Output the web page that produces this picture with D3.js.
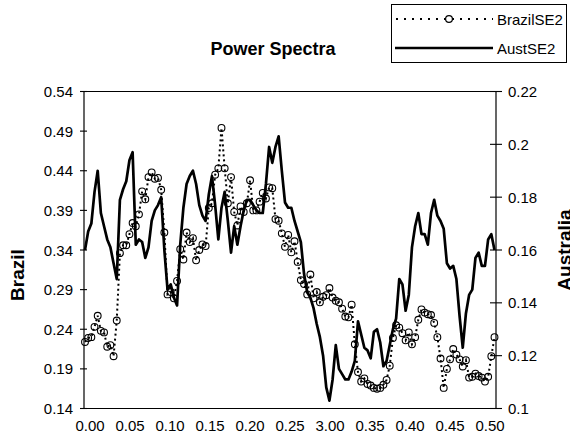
<!DOCTYPE html>
<html><head><meta charset="utf-8">
<script src="https://cdn.jsdelivr.net/npm/d3@7"></script>
<style>body{margin:0;background:#fff}text{font-family:"Liberation Sans",Arial,sans-serif;fill:#000}</style>
</head><body><svg id="c" width="570" height="437"></svg>
<script>
const brazilSE2 = [0.224,0.229,0.230,0.243,0.257,0.238,0.236,0.218,0.220,0.206,
0.251,0.336,0.346,0.346,0.360,0.374,0.370,0.385,0.414,0.404,
0.432,0.438,0.430,0.431,0.416,0.362,0.284,0.287,0.279,0.301,
0.341,0.328,0.362,0.350,0.355,0.327,0.340,0.347,0.345,0.393,
0.399,0.435,0.443,0.494,0.443,0.399,0.432,0.388,0.371,0.395,
0.388,0.399,0.428,0.390,0.390,0.401,0.412,0.405,0.419,0.418,
0.379,0.377,0.361,0.344,0.359,0.337,0.351,0.325,0.302,0.297,
0.284,0.309,0.279,0.287,0.274,0.281,0.283,0.292,0.280,0.276,
0.274,0.266,0.256,0.255,0.271,0.221,0.186,0.174,0.178,0.171,
0.169,0.166,0.165,0.166,0.170,0.176,0.194,0.229,0.245,0.242,
0.235,0.226,0.236,0.221,0.230,0.252,0.265,0.261,0.259,0.258,
0.248,0.230,0.203,0.166,0.190,0.202,0.215,0.208,0.202,0.193,
0.201,0.179,0.180,0.184,0.181,0.179,0.174,0.180,0.206,0.230];
const austSE2 = [0.160,0.167,0.170,0.182,0.190,0.174,0.169,0.164,0.161,0.155,
0.149,0.179,0.183,0.186,0.194,0.197,0.162,0.164,0.163,0.157,
0.161,0.171,0.175,0.177,0.180,0.160,0.145,0.147,0.142,0.139,
0.162,0.176,0.185,0.188,0.190,0.185,0.177,0.173,0.171,0.181,
0.188,0.177,0.164,0.176,0.182,0.171,0.159,0.169,0.162,0.169,
0.175,0.179,0.179,0.177,0.175,0.174,0.174,0.185,0.199,0.193,
0.199,0.203,0.190,0.178,0.176,0.176,0.171,0.167,0.163,0.151,
0.144,0.142,0.138,0.132,0.127,0.120,0.108,0.103,0.111,0.124,
0.115,0.113,0.111,0.111,0.114,0.118,0.133,0.128,0.123,0.122,
0.119,0.129,0.130,0.125,0.116,0.118,0.124,0.130,0.134,0.149,
0.147,0.137,0.143,0.161,0.169,0.174,0.166,0.166,0.162,0.174,
0.179,0.173,0.171,0.168,0.155,0.153,0.154,0.149,0.135,0.123,
0.136,0.143,0.145,0.157,0.159,0.154,0.154,0.164,0.166,0.160];
const xTickLabels = ["0.00","0.05","0.10","0.15","0.20","0.25","3.00","0.35","0.40","0.45","0.50"];
const brazilTicks = [0.14,0.19,0.24,0.29,0.34,0.39,0.44,0.49,0.54];
const australiaTicks = [0.1,0.12,0.14,0.16,0.18,0.2,0.22];
const seriesNames = ["BrazilSE2","AustSE2"];

const svg = d3.select("#c");
const P = {l:84, r:496, t:91.5, b:408.5};
const idx = d3.range(brazilSE2.length);
const x = d3.scaleLinear().domain([0, brazilSE2.length-1]).range([85, 494.5]);
const yB = d3.scaleLinear().domain([0.14,0.54]).range([P.b, P.t]);
const yA = d3.scaleLinear().domain([0.1,0.22]).range([P.b, P.t]);
const xl = d3.scalePoint().domain(xTickLabels).range([90,490]);

// frame
const g = svg.append("g");
g.append("line").attr("x1",P.l).attr("x2",P.r).attr("y1",P.t).attr("y2",P.t).attr("stroke","#000").attr("stroke-width",1.2);
g.append("line").attr("x1",P.l).attr("x2",P.r).attr("y1",P.b).attr("y2",P.b).attr("stroke","#000").attr("stroke-width",1.2);
g.append("line").attr("x1",P.l).attr("x2",P.l).attr("y1",P.t).attr("y2",P.b).attr("stroke","#000").attr("stroke-width",1.2);
g.append("line").attr("x1",P.r).attr("x2",P.r).attr("y1",P.t).attr("y2",P.b).attr("stroke","#000").attr("stroke-width",1.2);

// ticks and labels
brazilTicks.forEach(t=>{
  g.append("line").attr("x1",P.l-4).attr("x2",P.l+3).attr("y1",yB(t)).attr("y2",yB(t)).attr("stroke","#000").attr("stroke-width",1.1);
  g.append("text").attr("x",73).attr("y",yB(t)).attr("text-anchor","end").attr("dominant-baseline","central")
   .style("font-size","15px").text(d3.format(".2f")(t));
});
australiaTicks.forEach(t=>{
  g.append("line").attr("x1",P.r-6).attr("x2",P.r+6).attr("y1",yA(t)).attr("y2",yA(t)).attr("stroke","#000").attr("stroke-width",1.1);
  g.append("text").attr("x",508).attr("y",yA(t)).attr("text-anchor","start").attr("dominant-baseline","central")
   .style("font-size","15px").text(String(t));
});
xTickLabels.forEach(lab=>{
  g.append("text").attr("x",xl(lab)).attr("y",431).attr("text-anchor","middle").style("font-size","15px").text(lab);
});

// series
const lineA = d3.line().x(i=>x(i)).y(i=>yA(austSE2[i]));
const lineB = d3.line().x(i=>x(i)).y(i=>yB(brazilSE2[i]));
svg.append("path").attr("d",lineA(idx)).attr("fill","none").attr("stroke","#000").attr("stroke-width",2.7).attr("stroke-linejoin","round");
svg.append("path").attr("d",lineB(idx)).attr("fill","none").attr("stroke","#000").attr("stroke-width",2).attr("stroke-dasharray","2,3");
svg.append("g").selectAll("circle").data(idx).join("circle")
  .attr("cx",i=>x(i)).attr("cy",i=>yB(brazilSE2[i])).attr("r",3.4)
  .attr("fill","none").attr("stroke","#000").attr("stroke-width",1.1);

// titles
svg.append("text").attr("x",273).attr("y",55).attr("text-anchor","middle").style("font-size","18px").style("font-weight","bold").text("Power Spectra");
svg.append("text").attr("transform","translate(23.5,275) rotate(-90)").attr("text-anchor","middle").style("font-size","19px").style("font-weight","bold").text("Brazil");
svg.append("text").attr("transform","translate(571,250) rotate(-90)").attr("text-anchor","middle").style("font-size","19px").style("font-weight","bold").text("Australia");

// legend
const lg = svg.append("g");
lg.append("rect").attr("x",391.5).attr("y",4.5).attr("width",175).attr("height",58).attr("fill","#fff").attr("stroke","#000").attr("stroke-width",1);
lg.append("line").attr("x1",396).attr("x2",493).attr("y1",19).attr("y2",19).attr("stroke","#000").attr("stroke-width",2).attr("stroke-dasharray","2,6");
lg.append("circle").attr("cx",449).attr("cy",19).attr("r",3.4).attr("fill","#fff").attr("stroke","#000").attr("stroke-width",1.2);
lg.append("line").attr("x1",395).attr("x2",493).attr("y1",48).attr("y2",48).attr("stroke","#000").attr("stroke-width",2.7);
lg.append("text").attr("x",497).attr("y",19).attr("dominant-baseline","central").style("font-size","15px").text(seriesNames[0]);
lg.append("text").attr("x",497).attr("y",48).attr("dominant-baseline","central").style("font-size","15px").text(seriesNames[1]);
</script></body></html>
